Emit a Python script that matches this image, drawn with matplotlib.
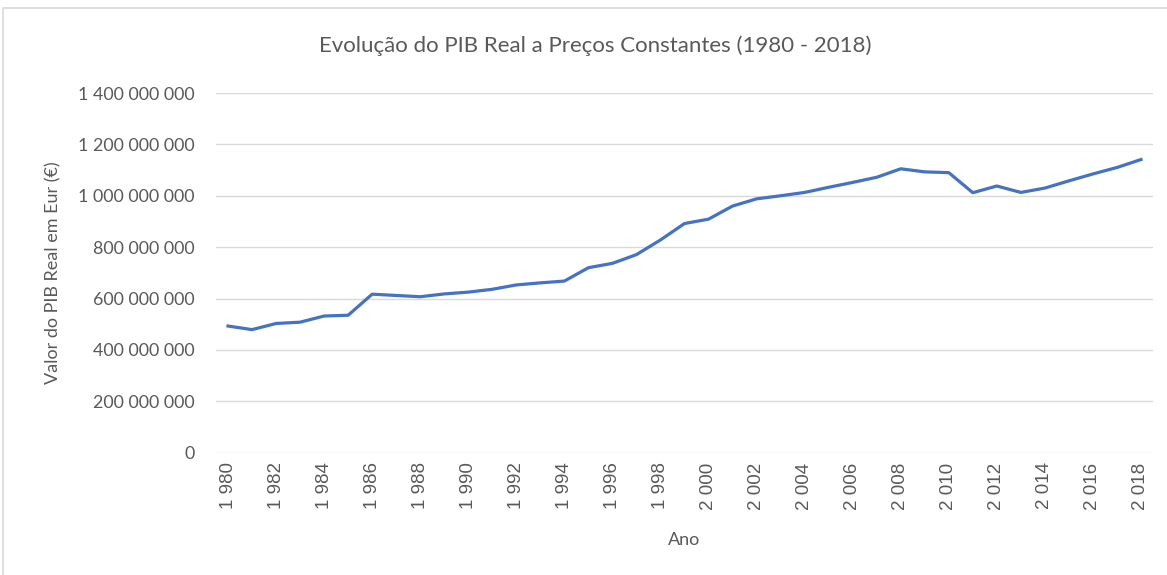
import matplotlib
matplotlib.use("Agg")
import matplotlib.pyplot as plt
from matplotlib.patches import Rectangle
from matplotlib.ticker import FuncFormatter, MultipleLocator

anos = list(range(1980, 2019))
pib = [493, 479, 503, 508, 532, 535, 617, 612, 607, 618,
       625, 636, 653, 661, 668, 720, 737, 771, 828, 892,
       909, 960, 988, 1000, 1013, 1033, 1052, 1072, 1105, 1093,
       1090, 1012, 1038, 1013, 1030, 1058, 1085, 1110, 1141]
pib = [v * 1e6 for v in pib]
anos_rotulo = anos[::2]

cinza = "#595959"
W, H = 1167, 575
fig = plt.figure(figsize=(W / 100, H / 100), dpi=100)
fig.patches.append(Rectangle((3 / W, -0.01), 1.02, 1 - 8 / H + 0.01, transform=fig.transFigure,
                             fill=False, ec="#D9D9D9", lw=1.2))
ax = fig.add_axes([216 / W, (H - 452.7) / H, (1153 - 216) / W, (452.7 - 93) / H])
ax.plot(anos, pib, color="#4472C4", lw=2.3, solid_joinstyle="round")
ax.set_xlim(1979.5, 2018.5)
ax.set_ylim(0, 1.4e9)
ax.yaxis.set_major_locator(MultipleLocator(2e8))
ax.yaxis.set_major_formatter(FuncFormatter(lambda v, p: f"{v:,.0f}".replace(",", " ")))
ax.set_xticks(anos_rotulo)
ax.set_xticklabels([f"{a:,}".replace(",", " ") for a in anos_rotulo], rotation=90,
                   family="Liberation Sans", fontsize=13.5, color=cinza)
ax.grid(axis="y", color="#D9D9D9", lw=1)
ax.set_axisbelow(True)
for s in ax.spines.values():
    s.set_visible(False)
ax.tick_params(length=0, pad=7)
ax.tick_params(axis="y", labelsize=12.9, labelcolor=cinza, pad=15.5)
for t in ax.get_yticklabels():
    t.set_family("Lato")
ax.set_ylabel("Valor do PIB Real em Eur (€)", family="Lato", fontsize=13, color=cinza, labelpad=12)
ax.set_xlabel("Ano", family="Lato", fontsize=13, color=cinza, labelpad=16)
fig.text(595 / W, 1 - 46 / H, "Evolução do PIB Real a Preços Constantes (1980 - 2018)",
         ha="center", va="center", family="Lato", fontsize=16, color=cinza)
fig.savefig("out.png", dpi=100, facecolor="white")
